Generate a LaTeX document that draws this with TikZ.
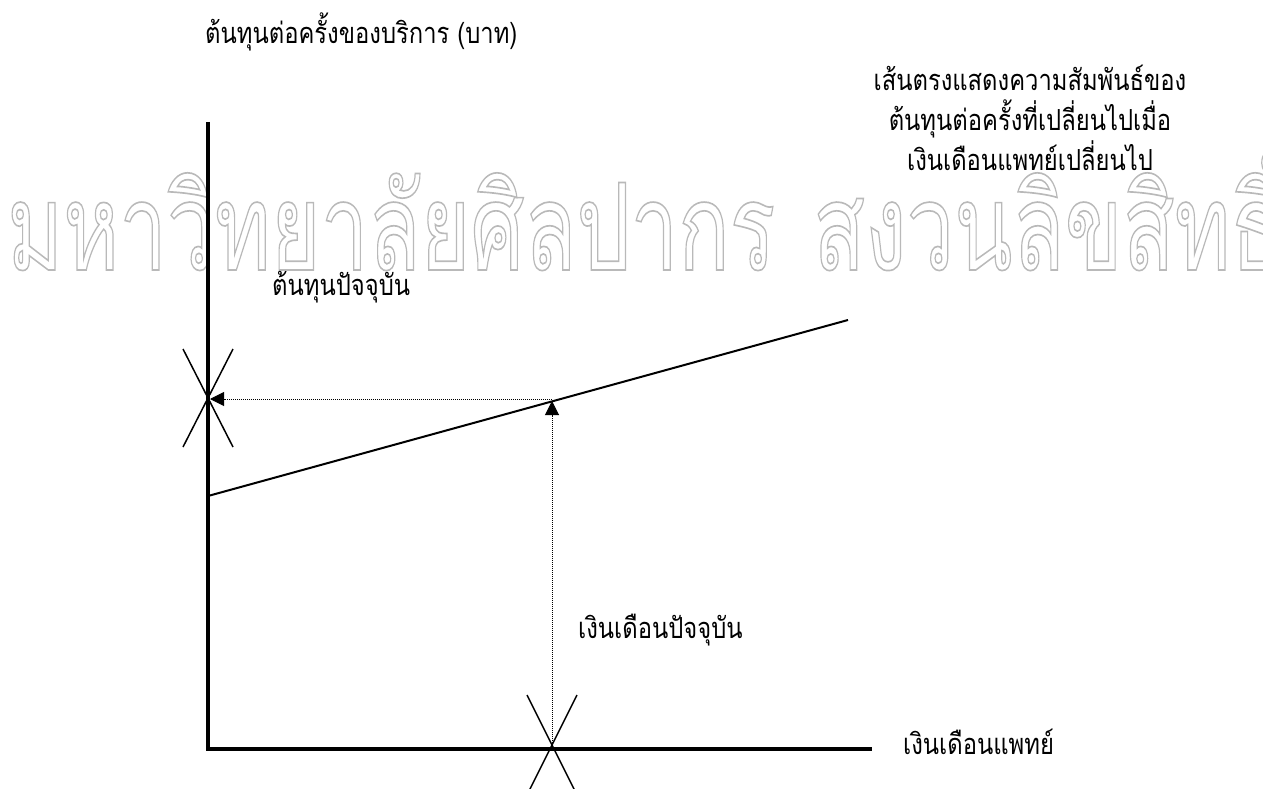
\documentclass[tikz,border=0pt]{standalone}
\usepackage{fontspec}
\usepackage{graphicx}
\usetikzlibrary{arrows.meta}
\newfontfamily\thaifont[Script=Thai,FakeStretch=0.82]{Loma}
\newfontfamily\wmfont[Script=Thai]{Loma}
\definecolor{wmgray}{RGB}{185,185,185}
\newlength\wmw
\newlength\wmh
\tikzset{
  axisline/.style={line width=4pt, line join=miter},
  relline/.style={line width=2pt},
  dotline/.style={line width=1pt, dash pattern=on 1pt off 1pt},
  xmark/.style={line width=1.5pt},
  tip/.style={-{Triangle[length=14pt,width=14pt]}},
  lbl/.style={font=\thaifont\fontsize{29}{40}\selectfont, inner sep=0pt},
  wm/.style={inner sep=0pt, text=wmgray, anchor=base west}
}
\begin{document}
\settowidth\wmw{\wmfont\fontsize{60pt}{60pt}\selectfont มหาวิทยาลัยศิลปากร}%
\settoheight\wmh{\wmfont\fontsize{60pt}{60pt}\selectfont มหาวนร}%
\pgfmathsetmacro\wmxs{768/\wmw}%
\pgfmathsetmacro\wmys{68/\wmh}%
\pgfmathsetmacro\wmlw{1.4/sqrt(\wmxs*\wmys)}%
\newcommand\wmtext[1]{\scalebox{\wmxs}[\wmys]{\special{pdf:literal direct 1 Tr \wmlw\space w}\wmfont\fontsize{60pt}{60pt}\selectfont #1\special{pdf:literal direct 0 Tr}}}%
\begin{tikzpicture}[x=1pt,y=1pt]
\useasboundingbox (0,0) rectangle (1263,-789);
% watermark
\node[wm] (wm1) at (7,-270) {\wmtext{มหาวิทยาลัยศิลปากร}};
\node[wm] (wm2) at (813,-270) {\wmtext{สงวนลิขสิทธิ์}};
% coordinates
\coordinate (O) at (208,-749);
\coordinate (Ytop) at (208,-122);
\coordinate (Xend) at (872,-749);
\coordinate (L0) at (208,-496);
\coordinate (L1) at (848,-320);
\coordinate (P) at (552,-399);
\coordinate (Q) at (210,-399);
\coordinate (S) at (552,-749);
\coordinate (T) at (552,-401);
\coordinate (C1) at (208,-398);
\coordinate (C2) at (552,-745);
% axes
\draw[axisline] (Ytop) -- (O) -- (Xend);
% relation line
\draw[relline] (L0) -- (L1);
% dotted guides
\draw[dotline, tip] (P) -- (Q);
\draw[dotline, tip] (S) -- (T);
% cross marks
\draw[xmark] (C1) ++(-25,49) -- ++(50,-98);
\draw[xmark] (C1) ++(25,49) -- ++(-50,-98);
\draw[xmark] (C2) ++(-25,50) -- ++(50,-100);
\draw[xmark] (C2) ++(25,50) -- ++(-50,-100);
% labels
\node[lbl, anchor=base west] (ylab) at (205,-44) {ต้นทุนต่อครั้งของบริการ (บาท)};
\node[lbl, anchor=base, align=center] (note) at (1030,-170) {เส้นตรงแสดงความสัมพันธ์ของ\\ต้นทุนต่อครั้งที่เปลี่ยนไปเมื่อ\\เงินเดือนแพทย์เปลี่ยนไป};
\node[lbl, anchor=base west] (cost) at (272,-295) {ต้นทุนปัจจุบัน};
\node[lbl, anchor=base west] (sal) at (578,-638) {เงินเดือนปัจจุบัน};
\node[lbl, anchor=base west] (xlab) at (903,-754) {เงินเดือนแพทย์};
\end{tikzpicture}
\end{document}
